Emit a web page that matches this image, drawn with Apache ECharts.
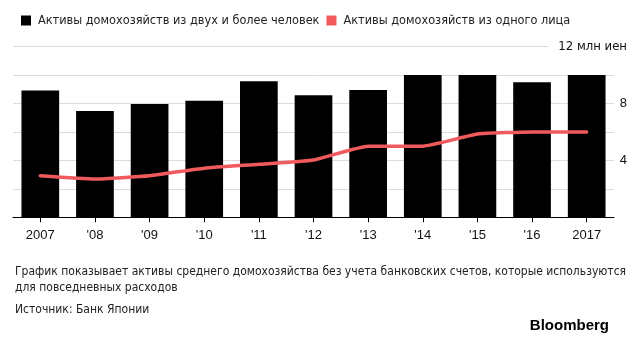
<!DOCTYPE html>
<html>
<head>
<meta charset="utf-8">
<script src="https://cdn.jsdelivr.net/npm/echarts@6/dist/echarts.min.js"></script>
<style>html,body{margin:0;padding:0;background:#fff;}#c{width:640px;height:338px;}</style>
</head>
<body>
<div id="c"></div>
<script>
var categories = ['2007', "'08", "'09", "'10", "'11", "'12", "'13", "'14", "'15", "'16", '2017'];
var multiPerson = [8.9, 7.47, 7.96, 8.19, 9.55, 8.57, 8.95, 10.0, 10.0, 9.49, 10.0];
var singlePerson = [2.92, 2.69, 2.92, 3.45, 3.72, 4.02, 5.0, 5.0, 5.85, 6.0, 6.0];
var seriesNames = ['Активы домохозяйств из двух и более человек', 'Активы домохозяйств из одного лица'];
var yLabels = {4: '4', 8: '8', 12: '12 млн иен'};
var captionText = 'График показывает активы среднего домохозяйства без учета банковских счетов, которые используются\nдля повседневных расходов';
var sourceText = 'Источник: Банк Японии';
var brandText = 'Bloomberg';

var uiFont = "'DejaVu Sans Condensed', 'Liberation Sans Narrow', 'Liberation Sans', sans-serif";
var numFont = "'Liberation Sans', Arial, sans-serif";

var chart = echarts.init(document.getElementById('c'), null, {renderer: 'canvas'});
chart.setOption({
  animation: false,
  backgroundColor: '#fff',
  title: [
    {text: captionText, left: 10, top: 259, textStyle: {fontFamily: uiFont, fontSize: 12, fontWeight: 'normal', color: '#222', lineHeight: 16}},
    {text: sourceText, left: 10, top: 297, textStyle: {fontFamily: uiFont, fontSize: 12, fontWeight: 'normal', color: '#222', lineHeight: 16}},
    {text: brandText, right: 26, top: 312, textStyle: {fontFamily: numFont, fontSize: 15, fontWeight: 'bold', color: '#000', lineHeight: 18}}
  ],
  legend: {
    left: 16, top: 9, itemWidth: 10, itemHeight: 10, itemGap: 7, icon: 'rect',
    data: seriesNames,
    textStyle: {fontFamily: uiFont, fontSize: 12.6, color: '#222', padding: [0, 0, 0, 2]}
  },
  grid: {left: 13, right: 26, top: 46.5, bottom: 120.7, containLabel: false},
  xAxis: {
    type: 'category', data: categories, boundaryGap: true,
    axisLine: {show: true, lineStyle: {color: '#000', width: 1}},
    axisTick: {show: true, alignWithLabel: true, length: 5, lineStyle: {color: '#000'}},
    axisLabel: {margin: 12, fontFamily: numFont, fontSize: 13, color: '#111'}
  },
  yAxis: {
    type: 'value', position: 'right', min: 0, max: 12, interval: 2,
    axisLine: {show: false}, axisTick: {show: false},
    splitLine: {show: true, lineStyle: {color: '#dcdcdc', width: 1}},
    axisLabel: {
      margin: 13, align: 'right', fontFamily: numFont, fontSize: 13, color: '#111',
      formatter: function (v) {
        if (v === 12) return '{u|' + yLabels[12] + '}';
        return yLabels[v] || '';
      },
      rich: {u: {fontFamily: uiFont, fontSize: 13, color: '#111', backgroundColor: '#fff', padding: [3, 0, 3, 10]}}
    }
  },
  series: [
    {name: seriesNames[0], type: 'bar', data: multiPerson, barWidth: '69%', itemStyle: {color: '#000'}, z: 2},
    {name: seriesNames[1], type: 'line', data: singlePerson, smooth: 0.15, symbol: 'none',
     lineStyle: {color: '#f05a5c', width: 3.5, cap: 'round', join: 'round'}, itemStyle: {color: '#f05a5c'}, z: 3}
  ]
});
</script>
</body>
</html>
